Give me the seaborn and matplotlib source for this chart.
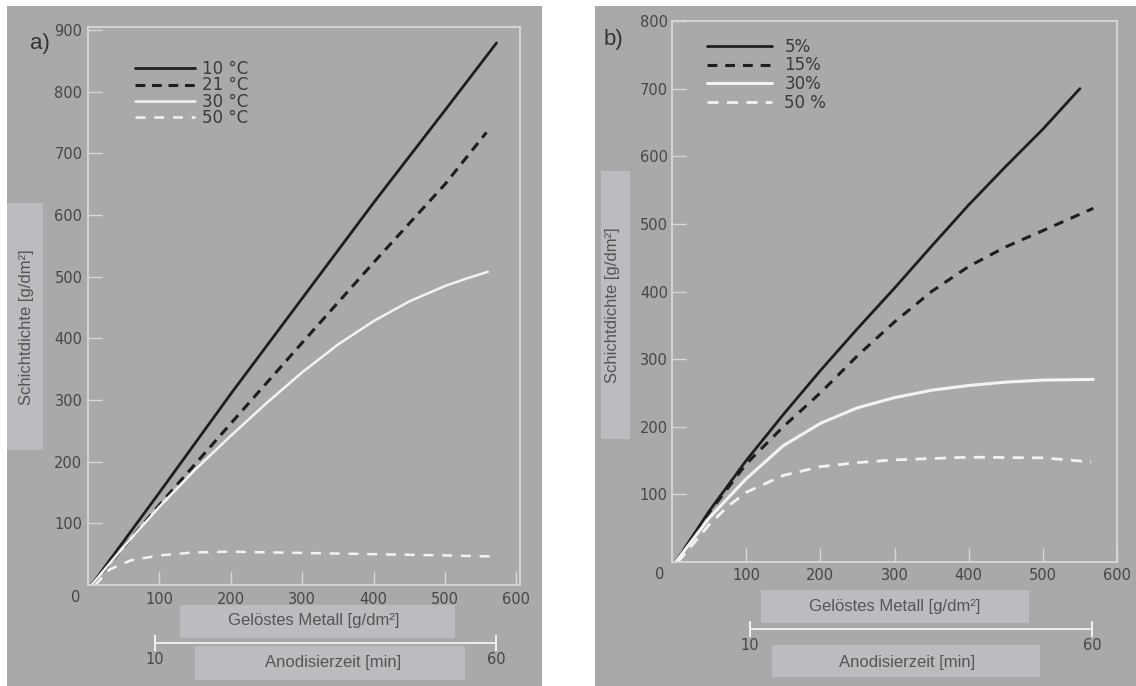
import matplotlib
matplotlib.use("Agg")
import matplotlib.pyplot as plt
from matplotlib.patches import Rectangle
import seaborn as sns

# panel a) - bath temperature
A_LABELS = ["10 °C", "21 °C", "30 °C", "50 °C"]
A_X_10 = [5, 100, 200, 300, 400, 500, 572]
A_Y_10 = [0, 150, 310, 465, 620, 770, 879]
A_X_21 = [5, 100, 200, 300, 400, 500, 558]
A_Y_21 = [0, 130, 262, 393, 523, 650, 734]
A_X_30 = [5, 50, 100, 150, 200, 250, 300, 350, 400, 450, 500, 530, 560]
A_Y_30 = [0, 62, 127, 187, 242, 295, 345, 390, 428, 460, 485, 497, 508]
A_X_50 = [10, 30, 60, 100, 150, 200, 300, 400, 500, 575]
A_Y_50 = [0, 25, 40, 48, 53, 54, 52, 50, 48, 46]

# panel b) - acid concentration
B_LABELS = ["5%", "15%", "30%", "50 %"]
B_X_5 = [5, 50, 100, 150, 200, 250, 300, 350, 400, 450, 500, 550]
B_Y_5 = [0, 75, 150, 218, 283, 345, 405, 467, 528, 585, 640, 700]
B_X_15 = [5, 50, 100, 150, 200, 250, 300, 350, 400, 450, 500, 568]
B_Y_15 = [0, 73, 145, 200, 250, 305, 355, 400, 437, 466, 490, 523]
B_X_30 = [5, 50, 100, 150, 200, 250, 300, 350, 400, 450, 500, 568]
B_Y_30 = [0, 65, 123, 172, 205, 228, 243, 254, 261, 266, 269, 270]
B_X_50 = [8, 50, 75, 100, 150, 200, 250, 300, 400, 500, 565]
B_Y_50 = [0, 55, 82, 103, 128, 141, 147, 151, 155, 154, 148]

A_XTICKS = [100, 200, 300, 400, 500, 600]
A_YTICKS = [100, 200, 300, 400, 500, 600, 700, 800, 900]
B_XTICKS = [100, 200, 300, 400, 500, 600]
B_YTICKS = [100, 200, 300, 400, 500, 600, 700, 800]
TIME_TICKS = [10, 60]

XLABEL = "Gelöstes Metall [g/dm²]"
YLABEL = "Schichtdichte [g/dm²]"
TLABEL = "Anodisierzeit [min]"

W, H = 1136, 686
BG = "#a9a9a9"
BOX = "#bcbcc0"
FRAME = "#d8d8d8"
DARK = "#1e1e1e"
LIGHT = "#f2f2f2"
TXT = "#474747"

sns.set_style("white")
plt.rcParams["font.family"] = ["DejaVu Sans"]

fig = plt.figure(figsize=(W / 100, H / 100), dpi=100)
fig.patch.set_facecolor("white")


def rect(x0, y0, x1, y1):
    return [x0 / W, 1 - y1 / H, (x1 - x0) / W, (y1 - y0) / H]


def fpt(x, y):
    return x / W, 1 - y / H


def add_box(x0, y0, x1, y1, color):
    fig.patches.append(Rectangle((x0 / W, 1 - y1 / H), (x1 - x0) / W, (y1 - y0) / H,
                                 transform=fig.transFigure, facecolor=color,
                                 edgecolor="none", zorder=-5))


def label(x, y, s, rot=0, size=12):
    fig.text(*fpt(x, y), s, ha="center", va="center", rotation=rot,
             fontsize=size, color="#555555", family="Liberation Sans")


def style_axes(ax, xticks, yticks, xlim, ylim, xpad, ypad):
    ax.set_facecolor(BG)
    ax.set_xlim(*xlim)
    ax.set_ylim(*ylim)
    ax.set_xticks(xticks)
    ax.set_yticks(yticks)
    ax.set_xlabel("")
    ax.set_ylabel("")
    for sp in ax.spines.values():
        sp.set_color(FRAME)
        sp.set_linewidth(1.3)
        sp.set_visible(True)
    ax.tick_params(direction="in", length=10, width=1.0, color=FRAME,
                   labelcolor=TXT, labelsize=10.5, bottom=True, left=True)
    ax.tick_params(axis="x", pad=xpad)
    ax.tick_params(axis="y", pad=ypad)
    ax.annotate("0", xy=(0, ylim[0]), xytext=(-9, -9), textcoords="offset points",
                ha="center", va="center", fontsize=10.5, color=TXT,
                annotation_clip=False)


def time_axis(x0, x1, y):
    tax = fig.add_axes(rect(x0, y - 1, x1, y))
    tax.set_facecolor("none")
    for k in ["top", "left", "right"]:
        tax.spines[k].set_visible(False)
    tax.spines["bottom"].set_color(LIGHT)
    tax.spines["bottom"].set_linewidth(1.3)
    tax.set_xlim(TIME_TICKS[0], TIME_TICKS[-1])
    tax.set_xticks(TIME_TICKS)
    tax.set_yticks([])
    tax.tick_params(axis="x", direction="inout", length=11, width=1.4, color=LIGHT,
                    labelcolor=TXT, labelsize=10.5, pad=1, bottom=True)
    return tax


# grey scan backgrounds
add_box(7, 6, 542, 686, BG)
add_box(595, 6, 1136, 686, BG)

# label boxes
add_box(7, 203, 43, 450, BOX)
add_box(180, 605, 455, 638, BOX)
add_box(195, 646, 465, 680, BOX)
add_box(601, 171, 630, 439, BOX)
add_box(761, 590, 1029, 623, BOX)
add_box(772, 645, 1040, 677, BOX)

# ---------- panel a ----------
ax_a = fig.add_axes(rect(88, 27, 520, 585))
sns.lineplot(x=A_X_10, y=A_Y_10, ax=ax_a, color=DARK, lw=2.0, label=A_LABELS[0])
sns.lineplot(x=A_X_21, y=A_Y_21, ax=ax_a, color=DARK, lw=2.2,
             linestyle=(0, (3.2, 2.2)), label=A_LABELS[1])
sns.lineplot(x=A_X_30, y=A_Y_30, ax=ax_a, color=LIGHT, lw=1.8, label=A_LABELS[2])
sns.lineplot(x=A_X_50, y=A_Y_50, ax=ax_a, color=LIGHT, lw=1.8,
             linestyle=(0, (4, 3.5)), label=A_LABELS[3])
style_axes(ax_a, A_XTICKS, A_YTICKS, (0, 605), (0, 905), xpad=5, ypad=4)
ax_a.legend(loc="upper left", bbox_to_anchor=fpt(135, 60), bbox_transform=fig.transFigure,
            frameon=False, borderpad=0, borderaxespad=0, handlelength=3.6,
            handletextpad=0.45, labelspacing=-0.1, fontsize=12, labelcolor="#3a3a3a")

# ---------- panel b ----------
ax_b = fig.add_axes(rect(672, 21, 1117, 562))
sns.lineplot(x=B_X_5, y=B_Y_5, ax=ax_b, color=DARK, lw=2.0, label=B_LABELS[0])
sns.lineplot(x=B_X_15, y=B_Y_15, ax=ax_b, color=DARK, lw=2.2,
             linestyle=(0, (3.2, 2.6)), label=B_LABELS[1])
sns.lineplot(x=B_X_30, y=B_Y_30, ax=ax_b, color=LIGHT, lw=2.2, label=B_LABELS[2])
sns.lineplot(x=B_X_50, y=B_Y_50, ax=ax_b, color=LIGHT, lw=2.0,
             linestyle=(0, (4, 3)), label=B_LABELS[3])
style_axes(ax_b, B_XTICKS, B_YTICKS, (0, 600), (0, 800), xpad=4, ypad=3)
ax_b.legend(loc="upper left", bbox_to_anchor=fpt(707, 38), bbox_transform=fig.transFigure,
            frameon=False, borderpad=0, borderaxespad=0, handlelength=3.9,
            handletextpad=0.75, labelspacing=0.03, fontsize=12, labelcolor="#3a3a3a")

# time scales
time_axis(155, 496, 643)
time_axis(750, 1092, 629)

# texts
label(27, 327, YLABEL, rot=90)
label(314, 620, XLABEL)
label(333, 662, TLABEL)
label(613, 305, YLABEL, rot=90)
label(895, 607, XLABEL)
label(907, 663, TLABEL)
fig.text(*fpt(40, 43), "a)", ha="center", va="center", fontsize=16,
         color="#333333", family="Liberation Sans")
fig.text(*fpt(613, 40), "b)", ha="center", va="center", fontsize=16,
         color="#333333", family="Liberation Sans")

fig.savefig("out.png", dpi=100, facecolor=fig.get_facecolor())
